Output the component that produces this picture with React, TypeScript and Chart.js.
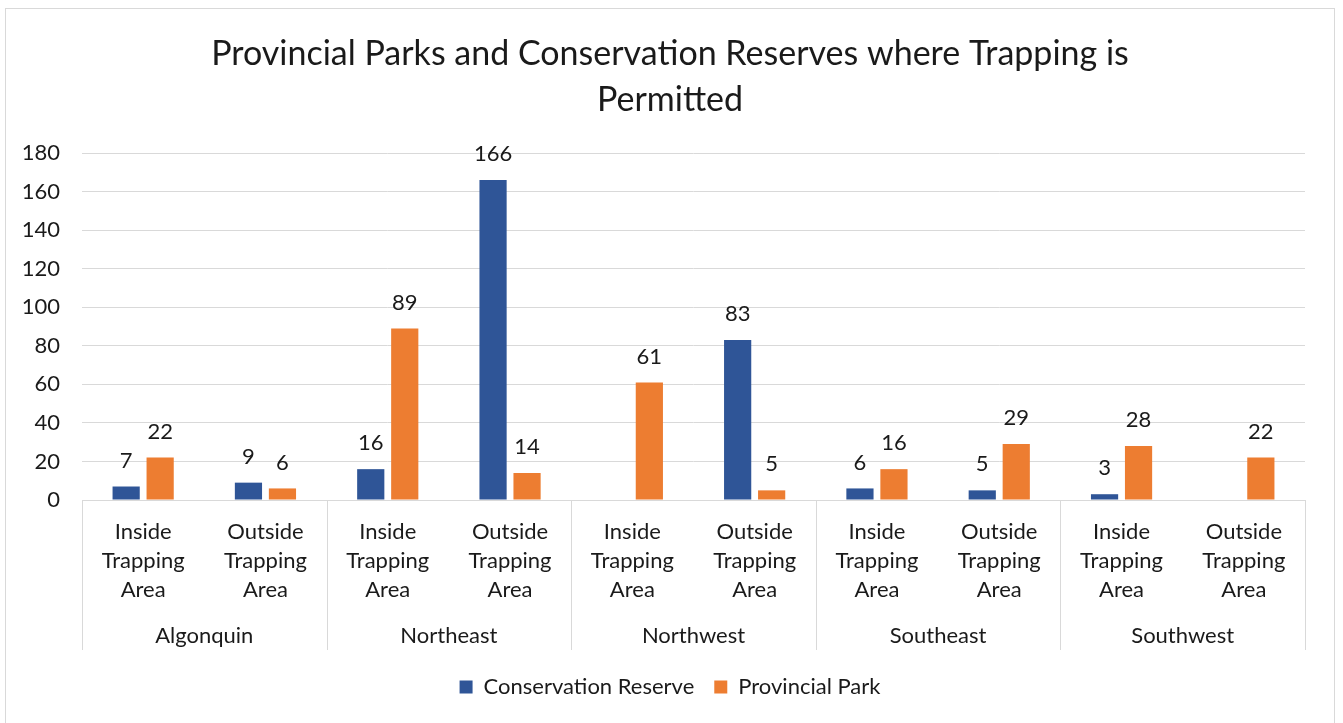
import React, { useEffect, useRef } from "react";
import { Chart, registerables } from "chart.js";

Chart.register(...registerables);

const TITLE = ["Provincial Parks and Conservation Reserves where Trapping is", "Permitted"];
const SUB_CATEGORIES: string[][] = [
  ["Inside", "Trapping", "Area"], ["Outside", "Trapping", "Area"],
  ["Inside", "Trapping", "Area"], ["Outside", "Trapping", "Area"],
  ["Inside", "Trapping", "Area"], ["Outside", "Trapping", "Area"],
  ["Inside", "Trapping", "Area"], ["Outside", "Trapping", "Area"],
  ["Inside", "Trapping", "Area"], ["Outside", "Trapping", "Area"],
];
const REGIONS = ["Algonquin", "Northeast", "Northwest", "Southeast", "Southwest"];
const CONSERVATION_RESERVE: (number | null)[] = [7, 9, 16, 166, null, 83, 6, 5, 3, null];
const PROVINCIAL_PARK: (number | null)[] = [22, 6, 89, 14, 61, 5, 16, 29, 28, 22];
const SERIES_NAMES = ["Conservation Reserve", "Provincial Park"];
const COLORS = ["#2F5597", "#ED7D31"];

const FONT = "Lato, 'Open Sans', sans-serif";
const TEXT = "#1a1a1a";
const GRID = "#d9d9d9";
const FS = 22;

const dataLabels = {
  id: "dataLabels",
  afterDatasetsDraw(chart: any) {
    const ctx = chart.ctx;
    ctx.save();
    ctx.font = `${FS}px ${FONT}`;
    ctx.fillStyle = TEXT;
    ctx.textAlign = "center";
    ctx.textBaseline = "middle";
    chart.data.datasets.forEach((ds: any, di: number) => {
      const meta = chart.getDatasetMeta(di);
      meta.data.forEach((bar: any, i: number) => {
        const v = ds.data[i];
        if (v === null || v === undefined) return;
        ctx.fillText(String(v), bar.x, bar.y - 26);
      });
    });
    ctx.restore();
  },
};

const groupAxis = {
  id: "groupAxis",
  afterDraw(chart: any) {
    const ctx = chart.ctx;
    const { left, right, bottom } = chart.chartArea;
    const n = REGIONS.length;
    const w = (right - left) / n;
    ctx.save();
    ctx.strokeStyle = GRID;
    ctx.lineWidth = 1;
    for (let k = 0; k <= n; k++) {
      const x = Math.round(left + k * w) + 0.5;
      ctx.beginPath();
      ctx.moveTo(x, bottom);
      ctx.lineTo(x, bottom + 150);
      ctx.stroke();
    }
    ctx.font = `${FS}px ${FONT}`;
    ctx.fillStyle = TEXT;
    ctx.textAlign = "center";
    ctx.textBaseline = "middle";
    REGIONS.forEach((r, k) => {
      ctx.fillText(r, left + (k + 0.5) * w, bottom + 136);
    });
    ctx.restore();
  },
};

export default function App() {
  const ref = useRef<HTMLCanvasElement>(null);
  useEffect(() => {
    if (!ref.current) return;
    const chart = new Chart(ref.current, {
      type: "bar",
      data: {
        labels: SUB_CATEGORIES,
        datasets: [
          { label: SERIES_NAMES[0], data: CONSERVATION_RESERVE, backgroundColor: COLORS[0], yAxisID: "y" },
          { label: SERIES_NAMES[1], data: PROVINCIAL_PARK, backgroundColor: COLORS[1], yAxisID: "y" },
        ],
      },
      options: {
        animation: false,
        responsive: true,
        maintainAspectRatio: false,
        datasets: { bar: { categoryPercentage: 0.556, barPercentage: 0.8 } },
        layout: { padding: { left: 0, right: 0, top: 0, bottom: 0 } },
        plugins: {
          title: {
            display: true,
            text: TITLE,
            color: TEXT,
            font: { family: FONT, size: 34, weight: "normal", lineHeight: 1.353 },
            padding: { top: 22, bottom: 30 },
          },
          legend: {
            position: "bottom",
            labels: {
              boxWidth: 13,
              boxHeight: 13,
              padding: 20,
              color: TEXT,
              font: { family: FONT, size: FS },
            },
          },
          tooltip: { enabled: false },
        },
        scales: {
          x: {
            grid: { display: false, drawTicks: false },
            border: { display: true, color: GRID },
            ticks: {
              autoSkip: false,
              maxRotation: 0,
              padding: 17,
              color: TEXT,
              font: { family: FONT, size: FS, lineHeight: 1.32 },
            },
            afterFit(scale: any) {
              scale.height = 156;
            },
          },
          y: {
            min: 0,
            max: 180,
            ticks: {
              stepSize: 20,
              padding: 22,
              color: TEXT,
              font: { family: FONT, size: FS },
            },
            grid: { color: GRID, drawTicks: false },
            border: { display: false },
            afterFit(scale: any) {
              scale.width = 76;
            },
          },
          spacer: {
            type: "linear",
            position: "right",
            min: 0,
            max: 180,
            grid: { display: false, drawTicks: false },
            border: { display: false },
            ticks: { display: false },
            afterFit(scale: any) {
              scale.width = 29;
            },
          },
        },
      },
      plugins: [dataLabels, groupAxis],
    });
    return () => chart.destroy();
  }, []);
  return (
    <div
      style={{
        position: "absolute",
        left: 5,
        top: 8,
        width: 1330,
        height: 716,
        border: "1px solid #d9d9d9",
        boxSizing: "border-box",
        background: "#fff",
      }}
    >
      <div style={{ position: "relative", width: 1328, height: 699 }}>
        <canvas ref={ref} />
      </div>
    </div>
  );
}
